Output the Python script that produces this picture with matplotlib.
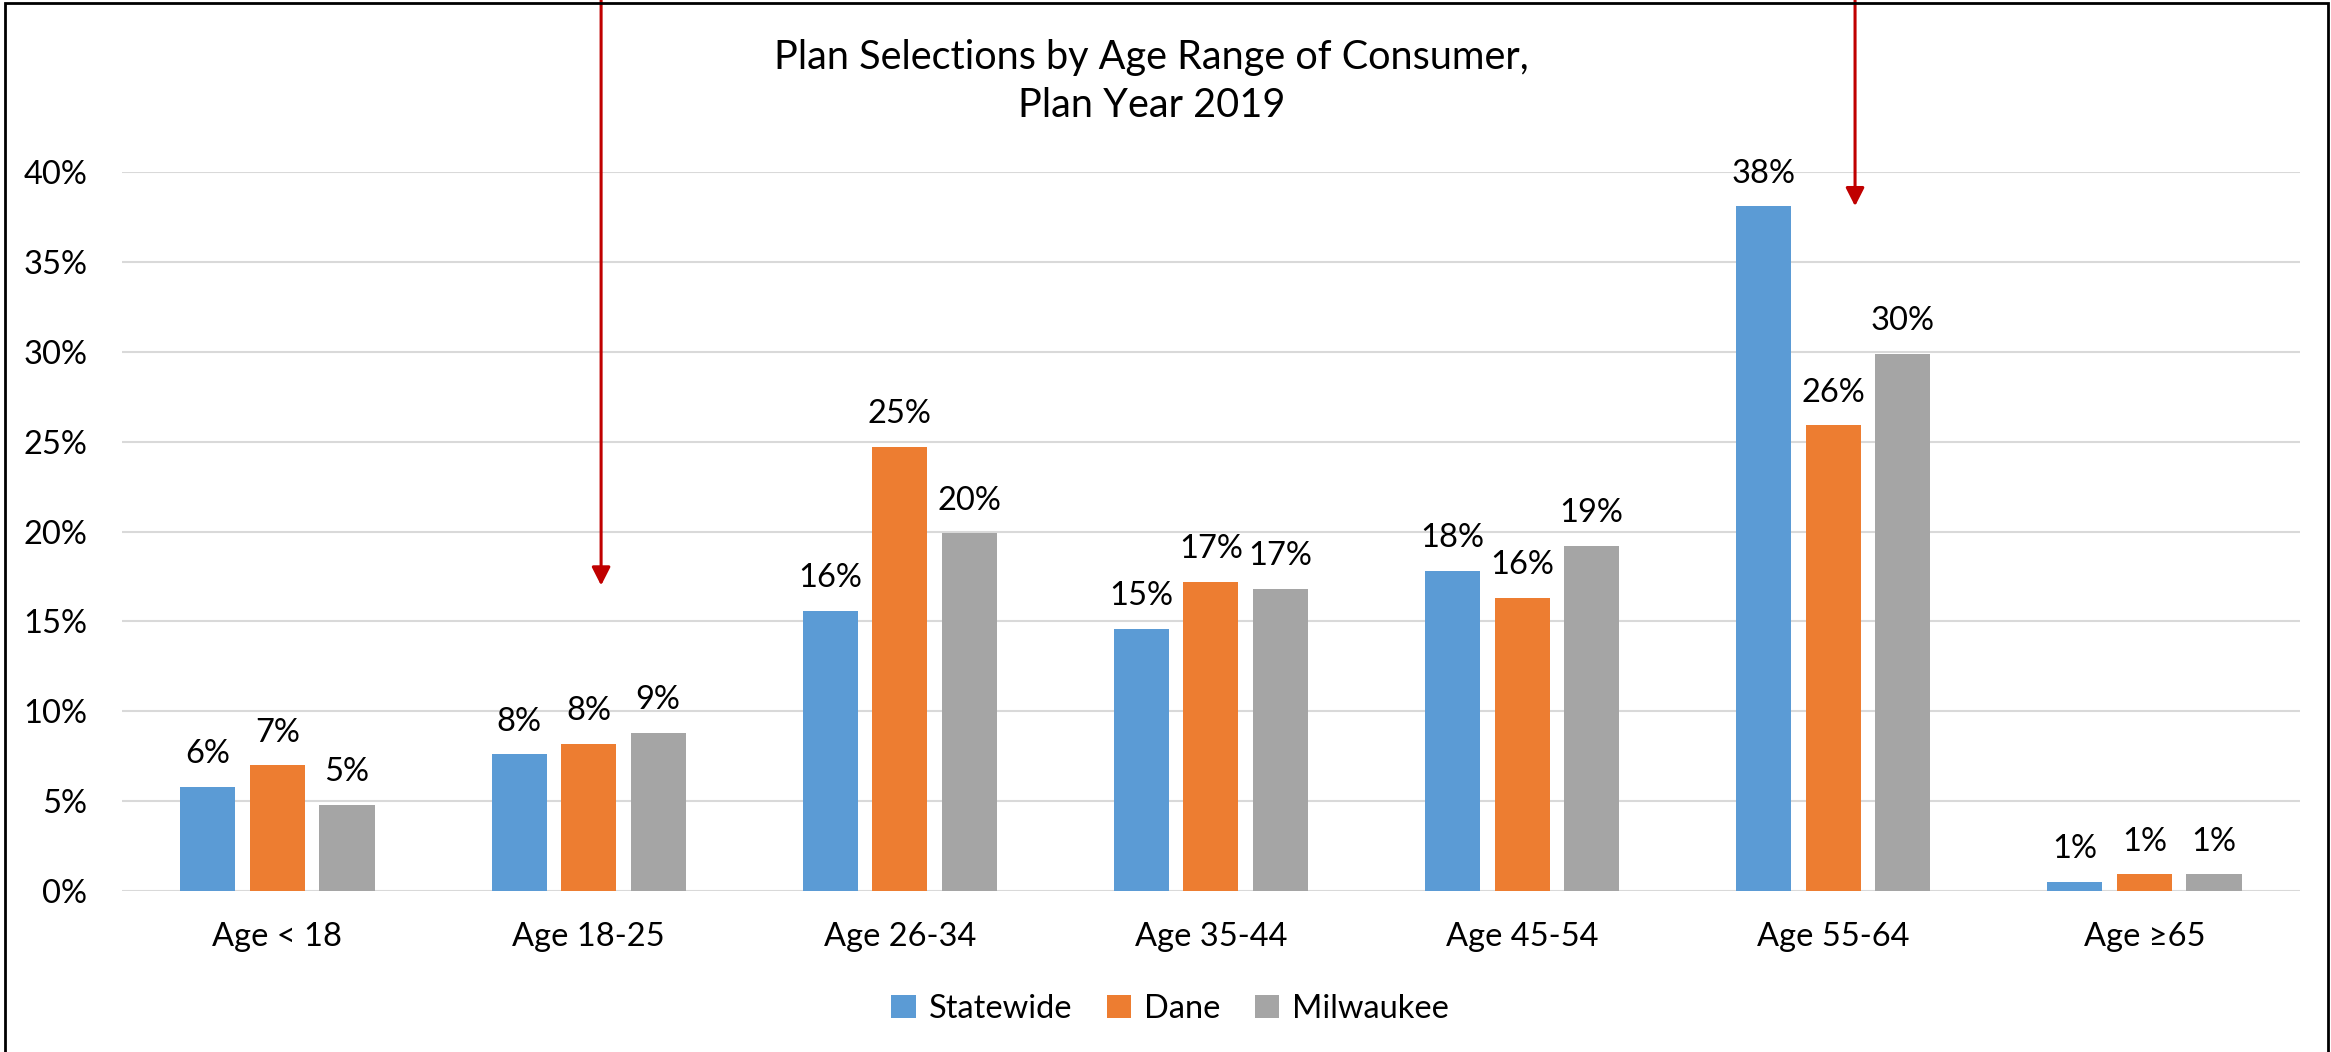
import numpy as np
import matplotlib
matplotlib.use("Agg")
import matplotlib.pyplot as plt
from matplotlib.patches import Rectangle
from matplotlib.ticker import PercentFormatter

plt.rcParams["font.family"] = ["Lato", "DejaVu Sans"]

categories = ["Age < 18", "Age 18-25", "Age 26-34", "Age 35-44", "Age 45-54", "Age 55-64", "Age \u226565"]
series_names = ["Statewide", "Dane", "Milwaukee"]
statewide = [0.058, 0.076, 0.156, 0.146, 0.178, 0.381, 0.0052]
dane = [0.070, 0.082, 0.247, 0.172, 0.163, 0.259, 0.0093]
milwaukee = [0.048, 0.088, 0.199, 0.168, 0.192, 0.299, 0.0093]
colors = ["#5B9BD5", "#ED7D31", "#A5A5A5"]

# red pointers: (category position, value at the arrow tip)
arrow_x = [1.04, 5.07]
arrow_tip = [0.17, 0.381]

TITLE = "Plan Selections by Age Range of Consumer,\nPlan Year 2019"
FS = 23.5

fig = plt.figure(figsize=(23.31, 10.52), dpi=100)
ax = fig.add_axes([0.0523, 0.153, 0.9344, 0.6835])

x = np.arange(len(categories))
width = 0.177
step = 0.2235

for i, (name, vals) in enumerate(zip(series_names, [statewide, dane, milwaukee])):
    pos = x + (i - 1) * step
    bars = ax.bar(pos, vals, width, color=colors[i], label=name, zorder=3)
    for b, v in zip(bars, vals):
        ax.annotate(f"{v:.0%}", (b.get_x() + b.get_width() / 2, v),
                    xytext=(0, 17), textcoords="offset points",
                    ha="center", va="baseline", fontsize=FS, color="black")

ax.set_xlim(-0.5, 6.5)
ax.set_ylim(0, 0.40)
ax.set_yticks(np.arange(0, 0.401, 0.05))
ax.yaxis.set_major_formatter(PercentFormatter(1.0, decimals=0))
ax.set_xticks(x)
ax.set_xticklabels(categories)
ax.tick_params(axis="y", length=0, pad=25, labelsize=FS)
ax.tick_params(axis="x", length=0, pad=22, labelsize=FS)
ax.grid(axis="y", color="#D9D9D9", lw=1.5, zorder=0)
for s in ax.spines.values():
    s.set_visible(False)

for ax_x, tip in zip(arrow_x, arrow_tip):
    ax.annotate("", xy=(ax_x, tip), xycoords="data",
                xytext=(ax_x, 1.0), textcoords=("data", "figure fraction"),
                arrowprops=dict(arrowstyle="-|>,head_length=0.55,head_width=0.28",
                                color="#C00000", lw=2.2, mutation_scale=20,
                                shrinkA=0, shrinkB=0),
                annotation_clip=False)

fig.text(0.494, 0.963, TITLE, ha="center", va="top", fontsize=28.5, linespacing=1.36)

fig.legend(loc="center", bbox_to_anchor=(0.502, 0.041), ncol=3, frameon=False,
           fontsize=FS, handlelength=0.75, handleheight=0.75, handletextpad=0.4,
           columnspacing=1.05)

# chart frame, open at the bottom edge
fig.add_artist(Rectangle((0.002, -0.05), 0.9965, 1.047, transform=fig.transFigure,
                         fill=False, ec="black", lw=2))

fig.savefig("out.png", dpi=100)
